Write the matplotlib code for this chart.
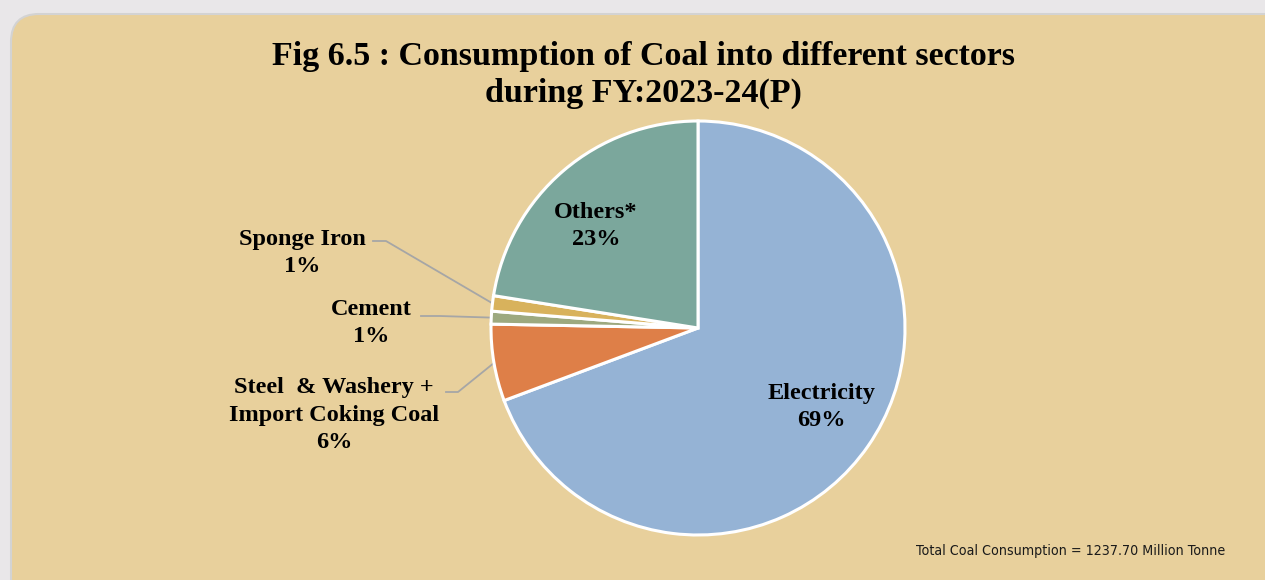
import numpy as np
import matplotlib.pyplot as plt
from matplotlib import font_manager
from matplotlib.patches import FancyBboxPatch

# data (share of total coal consumption, %)
sectors = ['Electricity', 'Steel  & Washery +\nImport Coking Coal', 'Cement', 'Sponge Iron', 'Others*']
shares = [69.3, 6.0, 1.0, 1.2, 22.5]
shown_pct = ['69%', '6%', '1%', '1%', '23%']
colors = ['#95B3D5', '#DE7F48', '#9DA97F', '#D8B25C', '#7BA79C']
total_note = 'Total Coal Consumption = 1237.70 Million Tonne'

W, H = 1265, 580
fig = plt.figure(figsize=(W / 100, H / 100), dpi=100)
fig.patch.set_facecolor('#E9E7E9')

# rounded tan panel
bg = fig.add_axes([0, 0, 1, 1])
bg.set_xlim(0, W)
bg.set_ylim(H, 0)
bg.axis('off')
bg.add_patch(FancyBboxPatch((11, 14), 1290, 600, boxstyle='round,pad=0,rounding_size=28',
                            facecolor='#E8D09C', edgecolor='#D3D3D3', linewidth=1.5))

serif = ['Liberation Serif', 'DejaVu Serif']
bg.text(643, 75, 'Fig 6.5 : Consumption of Coal into different sectors\nduring FY:2023-24(P)',
        ha='center', va='center', fontsize=24.5, fontweight='bold', family=serif, linespacing=1.28)

# narrow font for the footnote if there is one
condensed = any(f.name == 'DejaVu Sans' and f.stretch == 'condensed'
                for f in font_manager.fontManager.ttflist)
if condensed:
    bg.text(1225, 551, total_note, ha='right', va='center', fontsize=10.2,
            family='DejaVu Sans', stretch='condensed', color='#1a1a1a')
else:
    bg.text(1225, 551, total_note, ha='right', va='center', fontsize=10.3,
            family=['Liberation Sans', 'DejaVu Sans'], color='#1a1a1a')

# pie
cx, cy, r = 698, 328, 207
ax = fig.add_axes([(cx - r) / W, (H - cy - r) / H, 2 * r / W, 2 * r / H])
wedges, _ = ax.pie(shares, colors=colors, startangle=90, counterclock=False, radius=1,
                   wedgeprops=dict(edgecolor='white', linewidth=2.2))
ax.set_xlim(-1, 1)
ax.set_ylim(-1, 1)
ax.axis('off')


def px(x, y):
    # pixel position -> pie data coords
    return (x - cx) / r, (cy - y) / r


lbl = dict(ha='center', va='center', fontsize=17.5, fontweight='bold', family=serif, linespacing=1.42)

# inside labels
ax.text(*px(821, 407), f'{sectors[0]}\n{shown_pct[0]}', **lbl)
ax.text(*px(596, 226), f'{sectors[4]}\n{shown_pct[4]}', **lbl)

# outside labels with leader lines
outside = [(1, (334, 415), (446, 392), (458, 392)),
           (2, (371, 323), (421, 316), (440, 316)),
           (3, (302, 253), (373, 241), (386, 241))]
for i, tpos, start, elbow in outside:
    ax.text(*px(*tpos), f'{sectors[i]}\n{shown_pct[i]}', **lbl)
    w = wedges[i]
    mid = np.deg2rad((w.theta1 + w.theta2) / 2)
    end = (np.cos(mid), np.sin(mid))
    xs = [px(*start)[0], px(*elbow)[0], end[0]]
    ys = [px(*start)[1], px(*elbow)[1], end[1]]
    ax.plot(xs, ys, color='#A6A6A6', linewidth=1.3, zorder=0, clip_on=False)

fig.savefig('out.png', dpi=100, facecolor=fig.get_facecolor())
